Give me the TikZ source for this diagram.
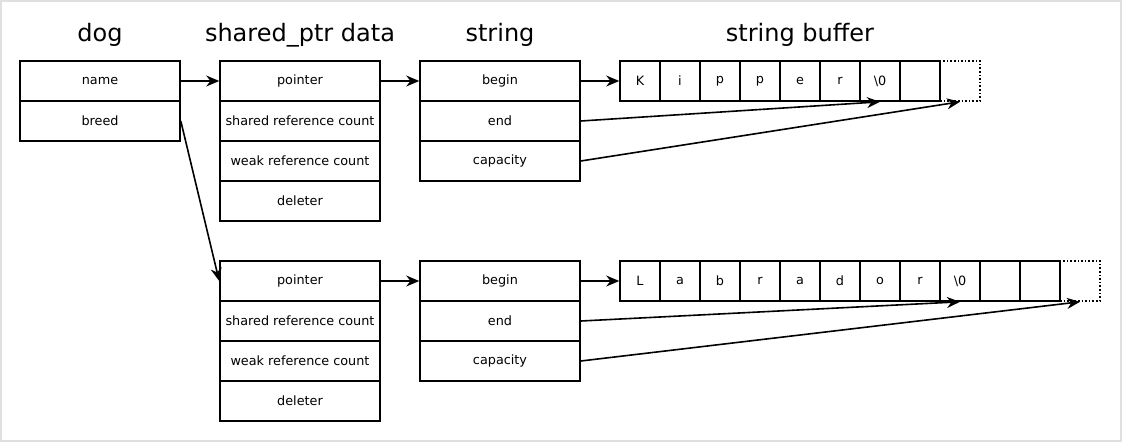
\documentclass[tikz,border=0pt]{standalone}
\usepackage{fontspec}
\setmainfont{DejaVu Sans}
\usetikzlibrary{arrows.meta}

\begin{document}
\begin{tikzpicture}[x=1pt, y=-1pt,
    cell/.style={draw, line width=1.6pt, minimum width=160pt, minimum height=40pt, inner sep=0pt, font=\fontsize{12.8}{14}\selectfont},
    chr/.style={cell, minimum width=40pt},
    spare/.style={chr, dotted},
    title/.style={font=\fontsize{24}{28}\selectfont},
    ptr/.style={-{Stealth[length=13pt, width=11pt]}, line width=1.6pt}]
    \useasboundingbox (0,0) rectangle (1122,442);
    \draw[black!12, line width=2.5pt] (1,1) rectangle (1121,441);

    % titles
    \node[title] (tdog) at (100,35) {dog};
    \node[title] (tshared) at (300,35) {shared\_ptr data};
    \node[title] (tstring) at (500,35) {string};
    \node[title] (tbuffer) at (800,35) {string buffer};

    % dog
    \node[cell] (name) at (100,81) {name};
    \node[cell] (breed) at (100,121) {breed};

    % shared_ptr blocks and strings
    \foreach \s/\y in {a/81, b/281} {
        \node[cell] (ptr\s) at (300,\y) {pointer};
        \node[cell] (shared\s) at (300,\y+40) {shared reference count};
        \node[cell] (weak\s) at (300,\y+80) {weak reference count};
        \node[cell] (deleter\s) at (300,\y+120) {deleter};
        \node[cell] (begin\s) at (500,\y) {begin};
        \node[cell] (end\s) at (500,\y+40) {end};
        \node[cell] (cap\s) at (500,\y+80) {capacity};
    }

    % buffers
    \foreach \c [count=\i] in {K,i,p,p,e,r,{\textbackslash 0},{}} {
        \node[chr] (bufa\i) at ({600+40*\i},81) {\c};
    }
    \node[spare] (sparea) at (960,81) {};
    \foreach \c [count=\i] in {L,a,b,r,a,d,o,r,{\textbackslash 0},{},{}} {
        \node[chr] (bufb\i) at ({600+40*\i},281) {\c};
    }
    \node[spare] (spareb) at (1080,281) {};

    % pointers
    \draw[ptr] (name.east) -- (ptra.west);
    \draw[ptr] (breed.east) -- (ptrb.west);
    \foreach \s/\z/\n in {a/sparea/7, b/spareb/9} {
        \draw[ptr] (ptr\s.east) -- (begin\s.west);
        \draw[ptr] (begin\s.east) -- (buf\s1.west);
        \draw[ptr] (end\s.east) -- (buf\s\n.south);
        \draw[ptr] (cap\s.east) -- (\z.south);
    }
\end{tikzpicture}
\end{document}
